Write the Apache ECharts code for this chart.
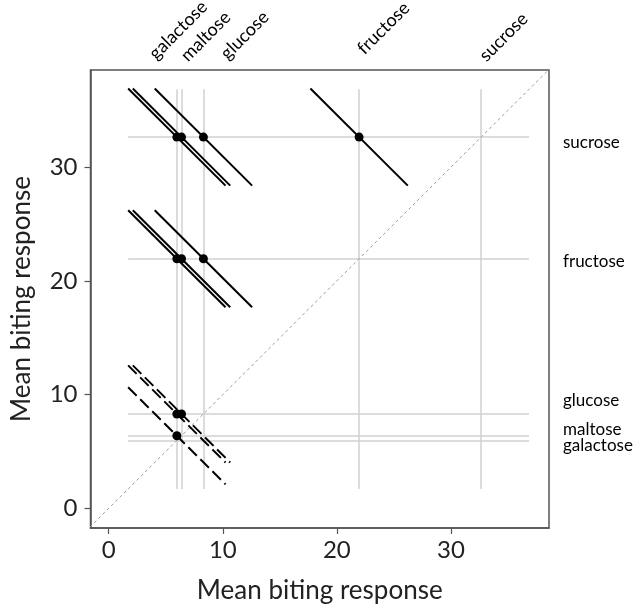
<!DOCTYPE html>
<html>
<head>
<meta charset="utf-8">
<script src="https://cdn.jsdelivr.net/npm/echarts@6/dist/echarts.min.js"></script>
<style>html,body{margin:0;padding:0;background:#fff}#c{width:634px;height:609px}</style>
</head>
<body>
<div id="c"></div>
<script>
// ---- data ----
var sugars = ['galactose', 'maltose', 'glucose', 'fructose', 'sucrose'];
var meanResponse = [5.97, 6.38, 8.3, 21.95, 32.65];
var dashedRows = ['glucose', 'maltose'];
var tickValues = [0, 10, 20, 30];
var axisTitle = 'Mean biting response';

// ---- styles ----
var FONT = 'Lato, "Open Sans", sans-serif';
var HALF = 4.27;           // half-extent of iso-lines (data units along x)
var GRID_LO = 1.7, GRID_HI = 36.85;
var X_MIN = -1.6, X_MAX = 38.6, Y_MIN = -1.73, Y_MAX = 38.55;
var topLabelDx = [-21, 6, 24, 5, 5];      // px: baseline start relative to vertical line
var topLabelBaseY = [60, 62, 60, 55, 62]; // px: baseline start y
var rightLabelDy = [5.5, -6, -13, 3, 5.5];// px: label centre relative to horizontal line
var RIGHT_X = 563;
var TOP_FS = 18, RIGHT_FS = 17;

var greyV = [], greyH = [], solidLines = [], dashedLines = [], pts = [];
for (var i = 0; i < sugars.length; i++) {
  var v = meanResponse[i];
  greyV.push({coords: [[v, GRID_LO], [v, GRID_HI]]});
  greyH.push({coords: [[GRID_LO, v], [GRID_HI, v]]});
}
for (var j = 0; j < sugars.length; j++) {
  for (var k = 0; k < j; k++) {
    var x = meanResponse[k], y = meanResponse[j];
    var seg = {coords: [[x - HALF, y + HALF], [x + HALF, y - HALF]]};
    if (dashedRows.indexOf(sugars[j]) >= 0) dashedLines.push(seg); else solidLines.push(seg);
    pts.push([x, y]);
  }
}

var chart = echarts.init(document.getElementById('c'));
var axisCommon = {
  type: 'value',
  axisLine: {show: true, onZero: false, lineStyle: {color: '#555', width: 1.5}},
  axisTick: {show: true, customValues: tickValues, length: 6, lineStyle: {color: '#555', width: 1.2}},
  splitLine: {show: false},
  name: axisTitle,
  nameLocation: 'middle',
  nameTextStyle: {fontFamily: FONT, fontSize: 26, color: '#222'}
};
chart.setOption({
  animation: false,
  grid: {left: 90.5, right: 85, top: 70, bottom: 80, show: true, borderColor: '#555', borderWidth: 1.5},
  xAxis: Object.assign({}, axisCommon, {
    min: X_MIN, max: X_MAX, nameGap: 50,
    axisLabel: {customValues: tickValues, fontFamily: FONT, fontSize: 24, color: '#222', margin: 10}
  }),
  yAxis: Object.assign({}, axisCommon, {
    min: Y_MIN, max: Y_MAX, nameGap: 56,
    axisLabel: {customValues: tickValues, fontFamily: FONT, fontSize: 24, color: '#222', margin: 13}
  }),
  series: [
    {type: 'lines', coordinateSystem: 'cartesian2d', polyline: false, silent: true,
      lineStyle: {color: '#d0d0d0', width: 1.5, opacity: 1}, data: greyV.concat(greyH), z: 1},
    {type: 'line', data: [[-5, -5], [45, 45]], showSymbol: false, symbol: 'none', silent: true,
      lineStyle: {color: '#9a9a9a', width: 1, type: [3, 3]}, z: 2},
    {type: 'lines', coordinateSystem: 'cartesian2d', silent: true,
      lineStyle: {color: '#000', width: 2, opacity: 1}, data: solidLines, z: 3},
    {type: 'lines', coordinateSystem: 'cartesian2d', silent: true,
      lineStyle: {color: '#000', width: 2, opacity: 1, type: [12, 5]}, data: dashedLines, z: 3},
    {type: 'scatter', data: pts, symbolSize: 9, itemStyle: {color: '#000', opacity: 1}, z: 4}
  ]
});

// category labels (top, rotated; right) placed from the data values
var elems = [];
sugars.forEach(function (s, i) {
  var px = chart.convertToPixel({gridIndex: 0}, [meanResponse[i], meanResponse[i]]);
  var d = TOP_FS * 0.21 * Math.SQRT1_2; // baseline -> bottom of em box, rotated 45deg
  elems.push({type: 'text', x: px[0] + topLabelDx[i] + d, y: topLabelBaseY[i] + d, rotation: Math.PI / 4,
    style: {text: s, x: 0, y: 0, font: TOP_FS + 'px ' + FONT, fill: '#000', align: 'left', verticalAlign: 'bottom',
      textAlign: 'left', textVerticalAlign: 'bottom'}});
  elems.push({type: 'text', x: RIGHT_X, y: px[1] + rightLabelDy[i],
    style: {text: s, x: 0, y: 0, font: RIGHT_FS + 'px ' + FONT, fill: '#000', align: 'left', verticalAlign: 'middle',
      textAlign: 'left', textVerticalAlign: 'middle'}});
});
chart.setOption({graphic: {elements: elems}});
</script>
</body>
</html>
